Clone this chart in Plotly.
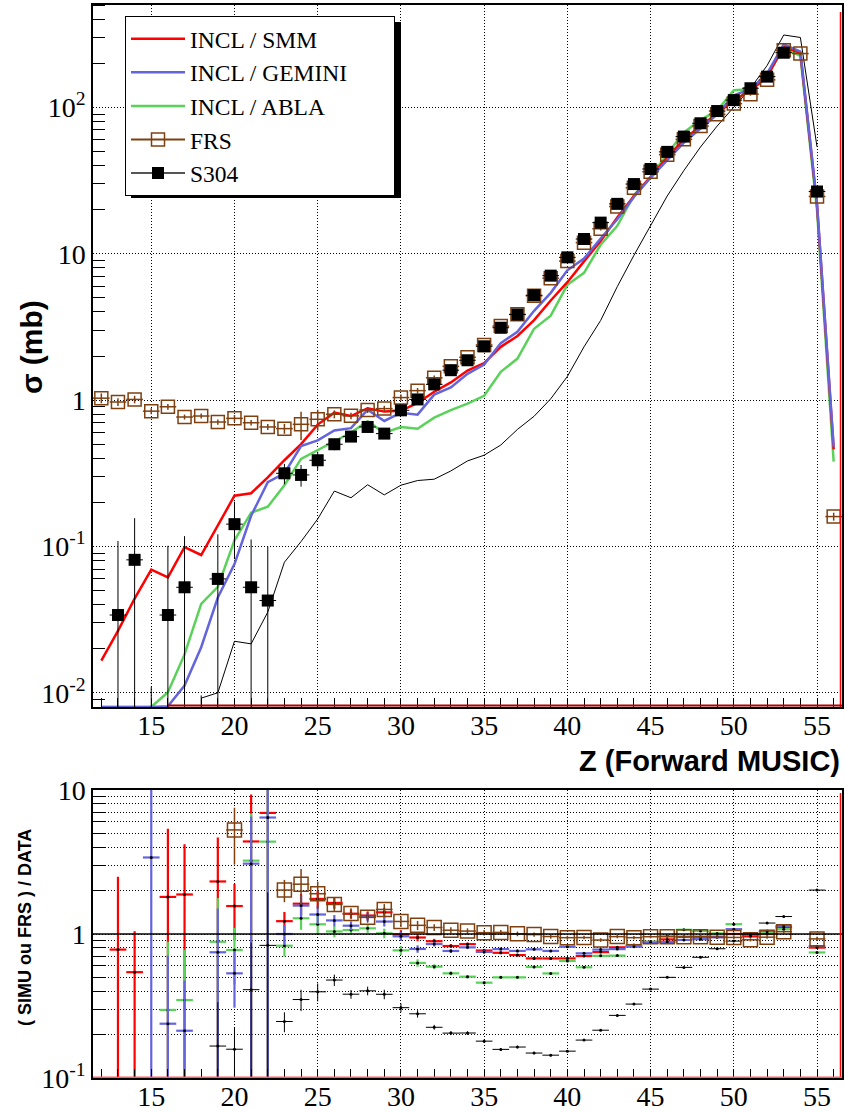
import math
import plotly.graph_objects as go

# ---------------- data ----------------
Z = list(range(12, 57))

# S304 measured cross sections (mb) and absolute errors
s304 = [None, 0.034, 0.081, 0.002, 0.034, 0.0526, 0.0008, 0.060, 0.142, 0.0526, 0.0427,
        0.316, 0.308, 0.388, 0.499, 0.563, 0.655, 0.590, 0.851, 1.01, 1.28, 1.60,
        1.87, 2.33, 3.12, 3.84, 5.2, 7.08, 9.44, 12.6, 16.3, 21.9, 29.9,
        37.9, 49.6, 63.1, 77.8, 94.3, 112, 135, 162, 236, None, 26.6, None]
s304_err = [None, 0.075, 0.075, 0.009, 0.067, 0.065, 0.0088, 0.061, 0.060, 0.059, 0.057,
            0.050, 0.052, 0.055, 0.045, 0.040, 0.045, 0.045, 0.060, 0.060, 0.05, 0.05,
            0.05, 0.06, 0.07, 0.08, 0.10, 0.12, 0.14, 0.15, 0.18, 0.2, 0.25,
            0.3, 0.35, 0.4, 0.5, 0.6, 0.7, 0.8, 1.0, 1.4, None, 0.3, None]

# FRS cross sections (mb) and errors
frs = [1.03, 0.97, 1.01, 0.84, 0.90, 0.766, 0.778, 0.708, 0.75, 0.70, 0.655,
       0.638, 0.683, 0.739, 0.80, 0.78, 0.855, 0.874, 1.04, 1.16, 1.42, 1.70,
       1.96, 2.38, 3.2, 3.85, 5.15, 6.8, 8.9, 11.9, 14.8, 21.0, 28.2,
       36.3, 47.5, 60.4, 74.5, 89.5, 106, 123, 154, 245, 233, 24.6, 0.16]
frs_err = [0.08, 0.06, 0.06, 0.04, 0.04, 0.03, 0.03, 0.03, 0.04, 0.03, 0.03,
           0.05, 0.15, 0.12, 0.05, 0.04, 0.04, 0.04, 0.05, 0.05, 0.05, 0.06,
           0.07, 0.08, 0.1, 0.12, 0.15, 0.2, 0.25, 0.3, 0.4, 0.5, 0.7,
           0.9, 1.2, 1.5, 1.8, 2.2, 2.6, 3.0, 3.8, 6, 6, 0.8, 0.01]

# Simulations
incl_smm = [0.0166, 0.0265, 0.044, 0.0694, 0.0615, 0.099, 0.0874, 0.139, 0.222, 0.231, 0.296,
            0.388, 0.50, 0.68, 0.82, 0.778, 0.88, 0.834, 0.845, 0.955, 1.14, 1.32,
            1.59, 1.79, 2.31, 2.74, 3.52, 4.79, 6.39, 8.86, 12.2, 17.7, 24.8,
            33.4, 45.5, 60.4, 74.5, 90.3, 112, 130, 162, 262, 235, 21.4, 0.46]
incl_gemini = [0, 0, 0, 0.0068, 0.0081, 0.0112, 0.0205, 0.0448, 0.0757, 0.162, 0.275,
               0.316, 0.485, 0.53, 0.62, 0.643, 0.86, 0.72, 0.82, 0.795, 1.09, 1.22,
               1.51, 1.75, 2.45, 2.93, 4.07, 5.4, 7.7, 9.25, 12.7, 17.2, 24.4,
               33.0, 43.6, 57.4, 71.6, 89.4, 121, 133, 170, 269, 240, 21.9, 0.48]
incl_abla = [0, 0, 0, 0, 0.0101, 0.0183, 0.0405, 0.053, 0.110, 0.170, 0.187,
             0.262, 0.396, 0.453, 0.52, 0.60, 0.717, 0.597, 0.655, 0.636, 0.759, 0.853,
             0.945, 1.07, 1.56, 1.92, 3.07, 3.77, 6.13, 7.4, 11.5, 15.5, 25.1,
             33.5, 48.0, 67.5, 81.7, 95.2, 131, 133, 164, 255, 225, 19.8, 0.38]
other_sim = [None, None, None, None, None, None, 0.0092, 0.0100, 0.0225, 0.0216, 0.0356,
             0.078, 0.108, 0.154, 0.239, 0.215, 0.264, 0.225, 0.262, 0.282, 0.288, 0.328,
             0.384, 0.42, 0.493, 0.63, 0.775, 1.02, 1.45, 2.31, 3.5, 5.96, 9.75,
             15.7, 24.8, 37, 53.6, 74.5, 100, 135, 193, 312, 300, 53.7, None]

legend_names = ["INCL / SMM", "INCL / GEMINI", "INCL / ABLA", "FRS", "S304"]

for arr in (s304, s304_err, frs, frs_err, incl_smm, incl_gemini, incl_abla, other_sim):
    assert len(arr) == len(Z)

# ---------------- styling ----------------
RED = "#ff0000"
BLUE = "#6464dc"
GREEN = "#5ad25a"
BROWN = "#7f4010"
SERIF = "Liberation Serif"
SANSB = "Liberation Sans, Arial"

YMIN, YMAX = 0.008, 500.0
RMIN, RMAX = 0.1, 10.0

W, H = 845, 1112
ML, MR, MT, MB = 93, 3, 5, 34
PW, PH = W - ML - MR, H - MT - MB

NBSP = "\u00a0"


def px_x(px):
    return (px - ML) / PW


def px_y(py):
    return (H - MB - py) / PH


def floor_clip(vals):
    # ROOT draws empty / tiny bins on the frame bottom of a log pad
    return [None if v is None else max(v, YMIN) for v in vals]


def ratio(sim, with_frs_err=False):
    xs, rs, es = [], [], []
    for i, z in enumerate(Z):
        d, de, s = s304[i], s304_err[i], sim[i]
        if d is None or s is None or s <= 0:
            continue
        r = s / d
        if r < RMIN or r > RMAX:
            continue
        rel = de / d
        if with_frs_err:
            rel = math.sqrt(rel ** 2 + (frs_err[i] / s) ** 2)
        xs.append(z)
        rs.append(r)
        es.append(r * rel)
    return xs, rs, es


fig = go.Figure()

# ---- top pad ----
fig.add_trace(go.Scatter(x=Z, y=floor_clip(other_sim), mode="lines",
                         line=dict(color="black", width=1), showlegend=False,
                         xaxis="x", yaxis="y", hoverinfo="skip"))
fig.add_trace(go.Scatter(x=Z, y=floor_clip(incl_abla), mode="lines", name=legend_names[2],
                         line=dict(color=GREEN, width=2.5), legendrank=3,
                         xaxis="x", yaxis="y"))
fig.add_trace(go.Scatter(x=Z, y=floor_clip(incl_smm), mode="lines", name=legend_names[0],
                         line=dict(color=RED, width=2.5), legendrank=1,
                         xaxis="x", yaxis="y"))
# the widest entry is padded so that the legend box gets the reference's width
fig.add_trace(go.Scatter(x=Z, y=floor_clip(incl_gemini), mode="lines",
                         name=legend_names[1] + NBSP * 7,
                         line=dict(color=BLUE, width=2.5), legendrank=2,
                         xaxis="x", yaxis="y"))
fig.add_trace(go.Scatter(x=Z, y=frs, mode="markers", showlegend=False,
                         marker=dict(symbol="square-open", size=13, color=BROWN,
                                     line=dict(width=1.5, color=BROWN)),
                         error_y=dict(type="data", array=frs_err, color=BROWN,
                                      thickness=1.5, width=0),
                         error_x=dict(type="constant", value=0.5, color=BROWN,
                                      thickness=1.5, width=0),
                         xaxis="x", yaxis="y"))
fig.add_trace(go.Scatter(x=Z, y=s304, mode="markers", showlegend=False,
                         marker=dict(symbol="square", size=12, color="black"),
                         error_y=dict(type="data", array=s304_err, color="black",
                                      thickness=1, width=0),
                         error_x=dict(type="constant", value=0.5, color="black",
                                      thickness=1, width=0),
                         xaxis="x", yaxis="y"))
# legend entries for the two data sets (line + marker symbol as in ROOT)
fig.add_trace(go.Scatter(x=[None], y=[None], mode="lines+markers", name=legend_names[3],
                         line=dict(color=BROWN, width=2), legendrank=4,
                         marker=dict(symbol="square-open", size=13, color=BROWN,
                                     line=dict(width=1.5, color=BROWN)),
                         xaxis="x", yaxis="y"))
fig.add_trace(go.Scatter(x=[None], y=[None], mode="lines+markers", name=legend_names[4],
                         line=dict(color="#555555", width=2), legendrank=5,
                         marker=dict(symbol="square", size=12, color="black"),
                         xaxis="x", yaxis="y"))

# ---- bottom pad: ratios ----
for sim, col, thick in ((incl_smm, RED, 2.2), (incl_abla, GREEN, 2.2),
                        (incl_gemini, BLUE, 2.2), (other_sim, "black", 1)):
    xs, rs, es = ratio(sim)
    fig.add_trace(go.Scatter(x=xs, y=rs, mode="markers", showlegend=False,
                             marker=dict(symbol="circle", size=3, color="black"),
                             error_y=dict(type="data", array=es, color=col,
                                          thickness=thick, width=0),
                             error_x=dict(type="constant", value=0.5, color=col,
                                          thickness=thick, width=0),
                             xaxis="x2", yaxis="y2"))
xs, rs, es = ratio(frs, with_frs_err=True)
fig.add_trace(go.Scatter(x=xs, y=rs, mode="markers", showlegend=False,
                         marker=dict(symbol="square-open", size=14, color=BROWN,
                                     line=dict(width=1.5, color=BROWN)),
                         error_y=dict(type="data", array=es, color=BROWN,
                                      thickness=1.5, width=0),
                         error_x=dict(type="constant", value=0.5, color=BROWN,
                                      thickness=1.5, width=0),
                         xaxis="x2", yaxis="y2"))

# ---------------- axes ----------------
tickfont = dict(family=SERIF, size=28, color="black")
grid = dict(showgrid=True, gridcolor="black", gridwidth=1, griddash="1px,2px")
frame = dict(showline=True, mirror=True, linecolor="black", linewidth=1.5,
             zeroline=False, automargin=False)


def minor_vals(lo_exp, hi_exp):
    return [m * 10 ** e for e in range(lo_exp, hi_exp + 1) for m in range(2, 10)]


xcommon = dict(range=[11.5, 56.5], tickmode="linear", tick0=15, dtick=5,
               ticks="inside", ticklen=9, tickcolor="black", tickfont=tickfont,
               ticklabelstandoff=-7,
               minor=dict(ticks="inside", ticklen=9, dtick=1, tickcolor="black",
                          showgrid=False),
               **grid, **frame)

fig.update_layout(
    width=W, height=H,
    margin=dict(l=ML, r=MR, t=MT, b=MB, autoexpand=False),
    paper_bgcolor="white", plot_bgcolor="white",
    xaxis=dict(domain=[0, 1], anchor="y", **xcommon),
    yaxis=dict(domain=[px_y(707), 1], anchor="x", type="log",
               range=[math.log10(YMIN), math.log10(YMAX)],
               tickmode="array", tickvals=[0.01, 0.1, 1, 10, 100],
               ticktext=["10<sup>-2</sup>", "10<sup>-1</sup>", "1", "10", "10<sup>2</sup>"],
               ticks="", tickfont=tickfont,
               minor=dict(ticks="inside", ticklen=12, tickcolor="black",
                          tickmode="array", tickvals=minor_vals(-3, 2), showgrid=False),
               **grid, **frame),
    xaxis2=dict(domain=[0, 1], anchor="y2", **xcommon),
    yaxis2=dict(domain=[0, px_y(790)], anchor="x2", type="log", range=[-1, 1],
                tickmode="array", tickvals=[0.1, 1, 10],
                ticktext=["10<sup>-1</sup>", "1", "10"],
                ticks="", tickfont=tickfont,
                minor=dict(ticks="inside", ticklen=12, tickcolor="black",
                           tickmode="array", tickvals=minor_vals(-1, 0),
                           showgrid=True, gridcolor="black", griddash="1px,2px"),
                **grid, **frame),
    legend=dict(x=px_x(125), y=px_y(16), xanchor="left", yanchor="top",
                bgcolor="white", bordercolor="black", borderwidth=1,
                font=dict(family=SERIF, size=23.5, color="black"),
                itemwidth=54, traceorder="normal"),
    showlegend=True,
)

# legend shadow (ROOT style)
fig.add_shape(type="rect", xref="paper", yref="paper",
              x0=px_x(131), x1=px_x(401), y0=px_y(198), y1=px_y(22),
              fillcolor="black", line=dict(width=0), layer="above")

# reference line at ratio = 1
fig.add_shape(type="line", xref="x2 domain", yref="y2 domain", x0=0, x1=1, y0=0.5, y1=0.5,
              line=dict(color="black", width=1.5), layer="above")
# red histogram edges along the frames
for yd in ("y domain", "y2 domain"):
    fig.add_shape(type="line", xref="paper", yref=yd, x0=px_x(840.5), x1=px_x(840.5),
                  y0=0, y1=0.99, line=dict(color=RED, width=1.5), layer="above")
fig.add_shape(type="line", xref="x", yref="y domain", x0=16, x1=56.5, y0=0.002, y1=0.002,
              line=dict(color="#b00000", width=2), layer="above")
fig.add_shape(type="line", xref="paper", yref="y2 domain", x0=0, x1=1, y0=0.003, y1=0.003,
              line=dict(color="#ff6060", width=1.5), layer="above")

# axis titles
fig.add_annotation(text="<b>σ (mb)</b>", xref="paper", yref="paper",
                   x=px_x(31), y=px_y(347), textangle=-90,
                   showarrow=False, xanchor="center", yanchor="middle",
                   font=dict(family=SANSB, size=30, color="black"))
fig.add_annotation(text="<b>Z (Forward MUSIC)</b>", xref="paper", yref="paper",
                   x=1.0, y=px_y(761), showarrow=False,
                   xanchor="right", yanchor="middle",
                   font=dict(family=SANSB, size=29, color="black"))
fig.add_annotation(text="<b>( SIMU ou FRS ) / DATA</b>", xref="paper", yref="paper",
                   x=px_x(25), y=px_y(928), textangle=-90,
                   showarrow=False, xanchor="center", yanchor="middle",
                   font=dict(family=SANSB, size=18, color="black"))

fig.write_html("out.html",
               config={"displayModeBar": False},
               post_script="document.body.style.margin='0px';"
                           "document.body.style.overflow='hidden';")
